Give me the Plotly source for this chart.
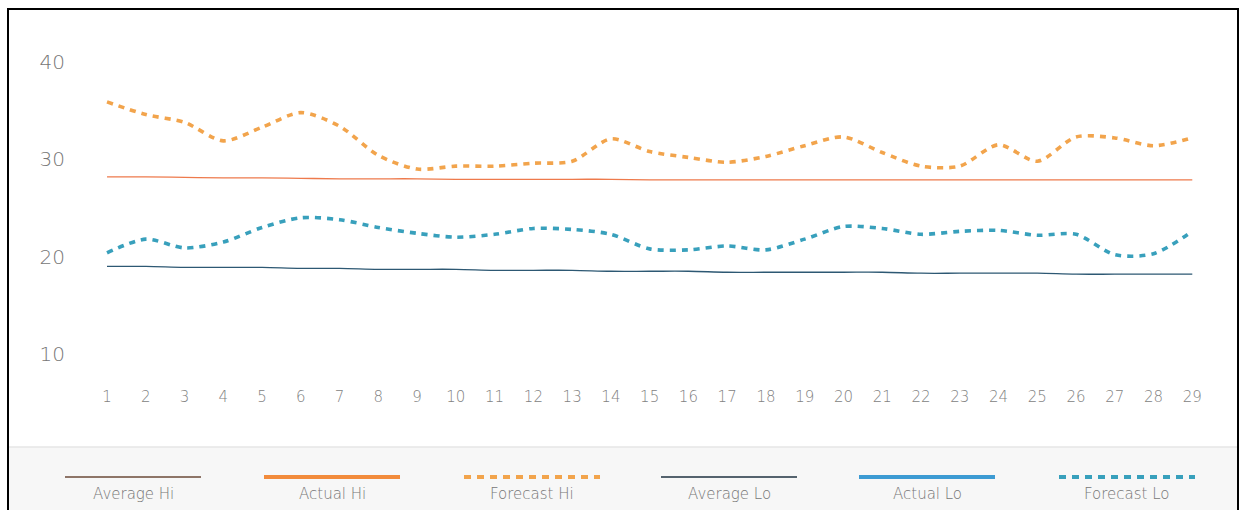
import plotly.graph_objects as go

# ---------------- data ----------------
days = list(range(1, 30))
day_labels = [str(d) for d in days]

forecast_hi = [35.9, 34.6, 33.8, 31.9, 33.3, 34.8, 33.4, 30.4, 29.0, 29.3,
               29.3, 29.6, 29.8, 32.1, 30.8, 30.2, 29.7, 30.3, 31.4, 32.3,
               30.7, 29.3, 29.3, 31.5, 29.8, 32.3, 32.2, 31.4, 32.2]
forecast_lo = [20.4, 21.8, 20.9, 21.5, 23.0, 24.0, 23.8, 23.0, 22.4, 22.0,
               22.3, 22.9, 22.8, 22.3, 20.8, 20.7, 21.1, 20.7, 21.8, 23.1,
               22.9, 22.3, 22.6, 22.7, 22.2, 22.3, 20.2, 20.3, 22.6]
average_hi = [28.2, 28.2, 28.15, 28.1, 28.1, 28.05, 28.0, 28.0, 28.0, 27.95,
              27.95, 27.95, 27.95, 27.95, 27.9, 27.9, 27.9, 27.9, 27.9, 27.9,
              27.9, 27.9, 27.9, 27.9, 27.9, 27.9, 27.9, 27.9, 27.9]
average_lo = [19.0, 19.0, 18.9, 18.9, 18.9, 18.8, 18.8, 18.7, 18.7, 18.7,
              18.6, 18.6, 18.6, 18.5, 18.5, 18.5, 18.4, 18.4, 18.4, 18.4,
              18.4, 18.3, 18.3, 18.3, 18.3, 18.2, 18.2, 18.2, 18.2]
y_ticks = [10, 20, 30, 40]

legend_names = ["Average Hi", "Actual Hi", "Forecast Hi", "Average Lo", "Actual Lo", "Forecast Lo"]

# ---------------- styling ----------------
W, H = 1244, 510
FONT = "DejaVu Sans"
TXT = "#767676"
C_AVG_HI = "#ee7a4c"
C_ACT_HI = "#f28b3c"
C_FC_HI = "#f2a44c"
C_AVG_LO = "#2d5873"
C_ACT_LO = "#3d9bd3"
C_FC_LO = "#38a0bc"
DASH = "6px,6px"

fig = go.Figure()
fig.add_trace(go.Scatter(x=days, y=average_hi, mode="lines", name="Average Hi",
                         line=dict(color=C_AVG_HI, width=1.3, shape="spline")))
fig.add_trace(go.Scatter(x=days, y=average_lo, mode="lines", name="Average Lo",
                         line=dict(color=C_AVG_LO, width=1.3, shape="spline")))
fig.add_trace(go.Scatter(x=days, y=forecast_hi, mode="lines", name="Forecast Hi",
                         line=dict(color=C_FC_HI, width=3.6, dash=DASH, shape="spline", smoothing=0.8)))
fig.add_trace(go.Scatter(x=days, y=forecast_lo, mode="lines", name="Forecast Lo",
                         line=dict(color=C_FC_LO, width=3.6, dash=DASH, shape="spline", smoothing=0.8)))

# pixel layout helpers (margin 0 -> paper == page)
def px(x):
    return x / W

def py(y):
    return 1 - y / H

plot_l, plot_r, plot_t, plot_b = 80, 1214, 40, 380
fig.update_layout(
    width=W, height=H,
    margin=dict(l=0, r=0, t=0, b=0),
    template="none",
    paper_bgcolor="white", plot_bgcolor="white",
    showlegend=False,
    font=dict(family=FONT, color=TXT, weight=200),
    xaxis=dict(domain=[px(plot_l), px(plot_r)], range=[0.303, 29.56],
               tickmode="array", tickvals=days, ticktext=day_labels,
               showgrid=False, zeroline=False, showline=False, ticks="",
               tickfont=dict(size=15, color="#828282", family=FONT, weight=200),
               ticklabelstandoff=6, automargin=False),
    yaxis=dict(domain=[py(plot_b), py(plot_t)], range=[7.33, 42.26],
               tickmode="array", tickvals=y_ticks,
               showgrid=False, zeroline=False, showline=False, ticks="",
               tickfont=dict(size=20, color=TXT, family=FONT, weight=200),
               ticklabelstandoff=14, automargin=False),
)

shapes = []
# legend band
shapes.append(dict(type="rect", xref="paper", yref="paper",
                   x0=px(8), x1=px(1238), y0=py(515), y1=py(447),
                   fillcolor="#f7f7f7", line=dict(width=0), layer="below"))
shapes.append(dict(type="line", xref="paper", yref="paper",
                   x0=px(8), x1=px(1238), y0=py(447), y1=py(447),
                   line=dict(color="#e6e6e6", width=1.5)))
# outer border
shapes.append(dict(type="rect", xref="paper", yref="paper",
                   x0=px(8), x1=px(1238), y0=py(520), y1=py(9),
                   line=dict(color="black", width=2), fillcolor="rgba(0,0,0,0)"))

legend_centers = [133, 332, 532, 729, 927, 1127]
legend_styles = [
    dict(color="#6b4a38", width=1.3),
    dict(color=C_ACT_HI, width=4),
    dict(color=C_FC_HI, width=4, dash="7px,6px"),
    dict(color="#1f3240", width=1.3),
    dict(color=C_ACT_LO, width=4),
    dict(color=C_FC_LO, width=4, dash="7px,6px"),
]
annotations = []
for name, cx, st in zip(legend_names, legend_centers, legend_styles):
    shapes.append(dict(type="line", xref="paper", yref="paper",
                       x0=px(cx - 68), x1=px(cx + 68), y0=py(477), y1=py(477),
                       line=st))
    annotations.append(dict(xref="paper", yref="paper", x=px(cx), y=py(494),
                            text=name, showarrow=False, xanchor="center", yanchor="middle",
                            font=dict(size=15, color=TXT, family=FONT, weight=200)))

fig.update_layout(shapes=shapes, annotations=annotations)

fig.write_html("out.html", config={"displayModeBar": False},
               post_script="document.body.style.margin='0';document.body.style.overflow='hidden';")
